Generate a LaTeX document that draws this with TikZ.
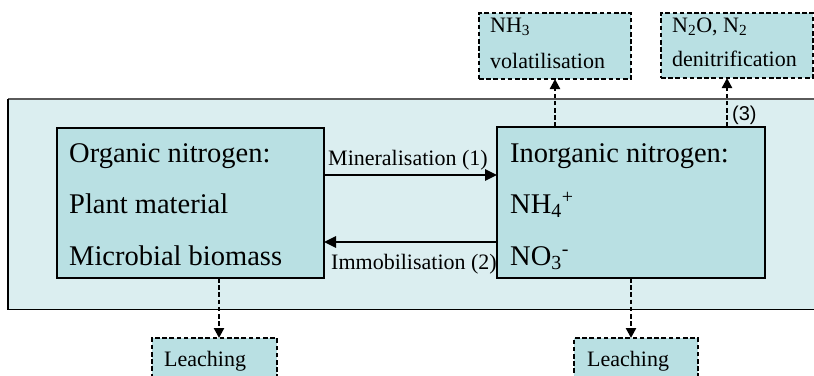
\documentclass[tikz,border=0pt]{standalone}
\usepackage{fontspec}
\setmainfont{Liberation Serif}
\newfontfamily\arialfont{Liberation Sans}
\usetikzlibrary{arrows.meta,calc}
\definecolor{innerfill}{HTML}{B9E0E3}
\definecolor{outerfill}{HTML}{DBEEF0}
\definecolor{topgray}{HTML}{5A5A5A}
\tikzset{
  box/.style={draw=black, line width=1.3pt, fill=innerfill, anchor=north west, inner sep=0pt, outer sep=0pt},
  dbox/.style={draw=black, line width=2.3pt, dash pattern=on 4.6pt off 2.6pt, fill=innerfill, anchor=north west, inner sep=0pt, outer sep=0pt},
  bigtxt/.style={anchor=base west, inner sep=0pt, font=\fontsize{28.5}{30}\selectfont},
  smtxt/.style={anchor=base west, inner sep=0pt, font=\fontsize{22}{24}\selectfont},
  flow/.style={line width=2.6pt, -{Triangle[length=12pt,width=11pt]}},
  dflow/.style={line width=2.3pt, dash pattern=on 4.6pt off 2.6pt, -{Triangle[length=10pt,width=10pt]}}
}
\begin{document}
\begin{tikzpicture}[x=1pt,y=-1pt]
\clip (0,0) rectangle (814,375);
\fill[white] (0,0) rectangle (814,375);
% outer region
\node[anchor=north west, fill=outerfill, inner sep=0pt, minimum width=812pt, minimum height=210pt] (outer) at (8,99) {};
\draw[topgray, line width=2.4pt] (outer.north west) -- (outer.north east);
\draw[black, line width=1.2pt] (outer.north west) -- (outer.south west) -- (outer.south east);
% inner boxes
\node[box, minimum width=267pt, minimum height=150pt] (org) at (57,128) {};
\node[box, minimum width=268pt, minimum height=151pt] (inorg) at (497,127) {};
% texts in boxes
\node[bigtxt] (t1) at (69,162) {Organic nitrogen:};
\node[bigtxt] (t2) at (69,213) {Plant material};
\node[bigtxt] (t3) at (69,265) {Microbial biomass};
\node[bigtxt] (t4) at (510,162) {Inorganic nitrogen:};
\node[bigtxt] (t5) at (510,213) {NH\textsubscript{4}\textsuperscript{+}};
\node[bigtxt] (t6) at (510,265) {NO\textsubscript{3}\textsuperscript{-}};
% arrows between boxes
\coordinate (ym) at (0,175);
\coordinate (yi) at (0,242);
\draw[flow] (org.east |- ym) -- (inorg.west |- ym);
\draw[flow] (inorg.west |- yi) -- (org.east |- yi);
\node[smtxt] (lm) at (328,165) {Mineralisation (1)};
\node[smtxt] (li) at (331,269) {Immobilisation (2)};
% top boxes
\node[dbox, minimum width=152pt, minimum height=66pt] (nh3) at (479,13) {};
\node[smtxt] (nh3a) at (490,32) {NH\textsubscript{3}};
\node[smtxt] (nh3b) at (490,68) {volatilisation};
\node[dbox, minimum width=152pt, minimum height=65pt] (n2o) at (661,13) {};
\node[smtxt] (n2oa) at (672,32) {N\textsubscript{2}O, N\textsubscript{2}};
\node[smtxt] (n2ob) at (672,66) {denitrification};
% bottom boxes
\node[dbox, minimum width=125pt, minimum height=60pt] (leachL) at (152,338) {};
\node[smtxt] (leLt) at (164,366) {Leaching};
\node[dbox, minimum width=124pt, minimum height=60pt] (leachR) at (574,338) {};
\node[smtxt] (leRt) at (587,366) {Leaching};
% dashed arrows
\draw[dflow] (nh3.south |- inorg.north) -- (nh3.south);
\coordinate (x3) at (727,0);
\draw[dflow] (x3 |- inorg.north) -- (x3 |- n2o.south);
\node[anchor=base west, inner sep=0pt, font=\arialfont\fontsize{20}{22}\selectfont] (l3) at (732,120) {(3)};
\coordinate (xl) at (219,0);
\coordinate (xr) at (631,0);
\draw[dflow] (xl |- org.south) -- (xl |- leachL.north);
\draw[dflow] (xr |- inorg.south) -- (xr |- leachR.north);
\end{tikzpicture}
\end{document}
